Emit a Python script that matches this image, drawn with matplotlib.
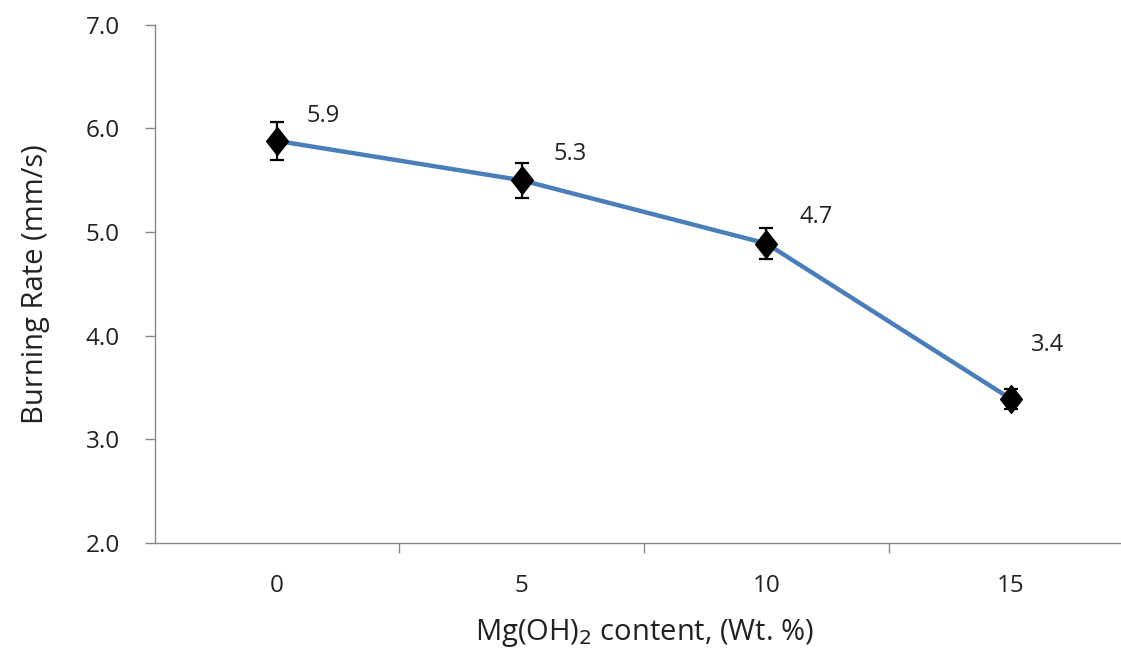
import numpy as np
import matplotlib
matplotlib.use('Agg')
import matplotlib.pyplot as plt
from matplotlib.path import Path

plt.rcParams['font.family'] = ['Open Sans', 'DejaVu Sans']

# data
categories = ['0', '5', '10', '15']
burning_rate = [5.88, 5.50, 4.89, 3.39]
errors = [0.18, 0.17, 0.15, 0.10]
labels = ['5.9', '5.3', '4.7', '3.4']
label_offsets = [(21, 18), (23, 19), (24, 19), (14, 39)]

# slightly tall diamond, like the Excel marker
diamond = Path([(0, 1.15), (0.9, 0), (0, -1.15), (-0.9, 0), (0, 1.15)],
               [Path.MOVETO, Path.LINETO, Path.LINETO, Path.LINETO, Path.CLOSEPOLY])

fig = plt.figure(figsize=(11.21, 6.52), dpi=100)
ax = fig.add_axes([0.138, 0.167, 0.873, 0.795])

x = np.arange(len(categories))
ax.errorbar(x, burning_rate, yerr=errors, color='#4A7EBB', lw=3.2,
            marker=diamond, ms=20, mfc='black', mec='black',
            ecolor='black', elinewidth=1.6, capsize=5, capthick=1.6, zorder=3)

for xi, yi, lab, off in zip(x, burning_rate, labels, label_offsets):
    ax.annotate(lab, (xi, yi), xytext=off, textcoords='offset points',
                fontsize=17, color='#222222', ha='left', va='center')

ax.set_xlim(-0.5, len(categories) - 0.5)
ax.set_ylim(2.0, 7.0)
ax.set_yticks(np.arange(2.0, 7.01, 1.0))
ax.set_yticklabels([f'{v:.1f}' for v in np.arange(2.0, 7.01, 1.0)])
ax.set_xticks(x)
ax.set_xticklabels(categories)
ax.set_xticks(np.arange(0.5, len(categories) - 1, 1.0), minor=True)
ax.tick_params(axis='x', which='major', length=0, labelsize=17.5, pad=22, colors='#222222')
ax.tick_params(axis='x', which='minor', length=7, width=1, color='#888888', direction='out')
ax.tick_params(axis='y', length=7, width=1, color='#888888', labelsize=17.5, pad=18,
               labelcolor='#222222')

for s in ['top', 'right']:
    ax.spines[s].set_visible(False)
for s in ['left', 'bottom']:
    ax.spines[s].set_color('#888888')
    ax.spines[s].set_linewidth(1)

ax.set_ylabel('Burning Rate (mm/s)', fontsize=21, color='#222222', labelpad=26)
ax.set_xlabel('Mg(OH)$_2$ content, (Wt. %)', fontsize=21, color='#222222', labelpad=14)

fig.savefig('out.png', dpi=100)
